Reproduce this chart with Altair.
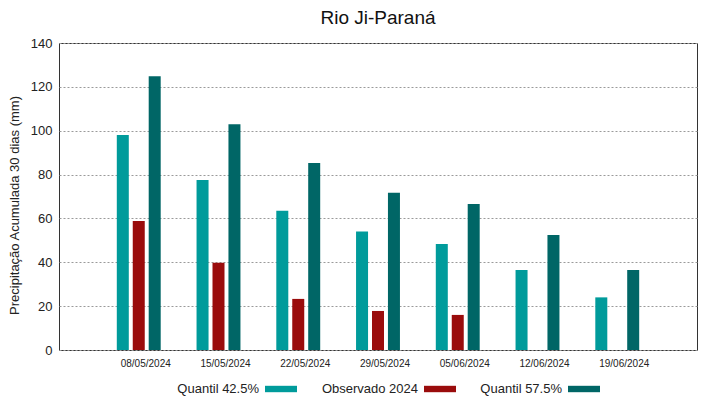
import altair as alt
import pandas as pd

dates = ["08/05/2024", "15/05/2024", "22/05/2024", "29/05/2024", "05/06/2024", "12/06/2024", "19/06/2024"]
series = ["Quantil 42.5%", "Observado 2024", "Quantil 57.5%"]
q425 = [98.0, 77.5, 63.5, 54.0, 48.3, 36.5, 24.0]
obs = [58.8, 39.8, 23.3, 17.8, 16.0, None, None]
q575 = [124.8, 103.0, 85.3, 71.7, 66.6, 52.4, 36.5]
colors = ["#009b9b", "#9a0c0c", "#006666"]

rows = []
for i, d in enumerate(dates):
    for s, vals in zip(series, [q425, obs, q575]):
        if vals[i] is not None:
            rows.append({"data": d, "serie": s, "valor": vals[i]})
df = pd.DataFrame(rows)

font = "Liberation Sans"

chart = alt.Chart(df).mark_bar(size=12).encode(
    x=alt.X("data:N", sort=dates,
            scale=alt.Scale(paddingInner=0, paddingOuter=0.5),
            axis=alt.Axis(title=None, labelAngle=0, labelFontSize=10, labelOffset=7,
                          ticks=False, labelPadding=8, domain=False, labelColor="#222")),
    xOffset=alt.XOffset("serie:N", sort=series,
                        scale=alt.Scale(domain=series, paddingInner=0, paddingOuter=1)),
    y=alt.Y("valor:Q",
            scale=alt.Scale(domain=[0, 140], nice=False),
            axis=alt.Axis(title="Precipitação Acumulada 30 dias (mm)", values=list(range(0, 141, 20)),
                          labelFontSize=13, titleFontSize=13, titleFontWeight="normal",
                          ticks=False, domain=False, labelPadding=7, titlePadding=9,
                          titleY=162,
                          gridDash=[2, 2], gridColor="#9a9a9a", labelColor="#222", titleColor="#222")),
    color=alt.Color("serie:N", sort=series,
                    scale=alt.Scale(domain=series, range=colors),
                    legend=alt.Legend(title=None, orient="none", direction="horizontal",
                                      legendX=206, legendY=330,
                                      symbolType="M-1,-0.2H1V0.2H-1Z", symbolSize=1024,
                                      symbolStrokeWidth=0, labelFontSize=13, columnPadding=24,
                                      labelAlign="right", labelOffset={"expr": "-38"},
                                      labelColor="#222", symbolOffset=0)),
).properties(
    width=638, height=307,
    title=alt.TitleParams("Rio Ji-Paraná", fontSize=19, fontWeight="normal", font=font,
                          color="#111", offset=9),
    autosize=alt.AutoSizeParams(type="none"),
    padding={"left": 51, "top": 35, "right": 14, "bottom": 48},
).configure(font=font).configure_view(stroke="#333", strokeWidth=1)

chart.save("out.html", embed_options={"renderer": "svg", "actions": False})
